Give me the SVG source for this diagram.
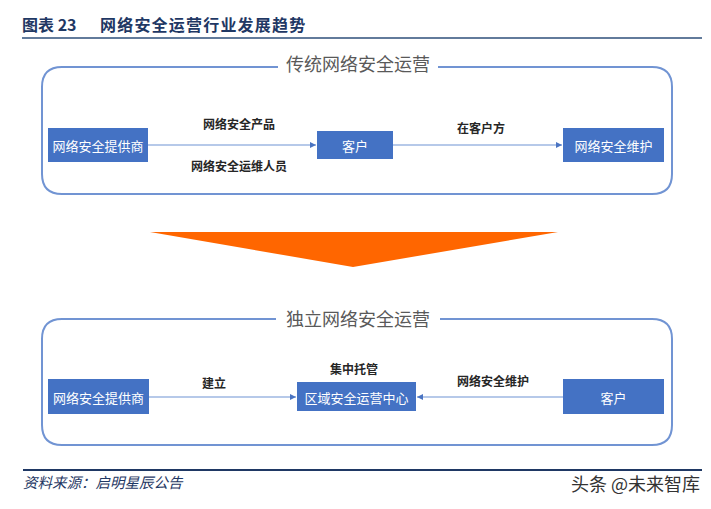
<svg xmlns="http://www.w3.org/2000/svg" width="711" height="509" viewBox="0 0 711 509">
<defs>
<style>
.hdr{font-family:"Noto Sans CJK SC","Noto Sans CJK JP",sans-serif;font-weight:bold;font-size:16px;fill:#1f3864}
.sec{font-family:"Noto Sans CJK SC",sans-serif;font-size:18px;fill:#595959;text-anchor:middle}
.frame{fill:none;stroke:#7194d3;stroke-width:2}
.box{fill:#4472c4}
.bt{font-family:"Noto Sans CJK SC",sans-serif;font-size:13px;fill:#ffffff;text-anchor:middle;dominant-baseline:central}
.lbl{font-family:"Noto Sans CJK SC",sans-serif;font-size:12px;font-weight:bold;fill:#262626;text-anchor:middle;dominant-baseline:central}
.con{stroke:#6f93d3;stroke-width:1.2;fill:none}
.src{font-family:"Noto Sans CJK SC",sans-serif;font-style:italic;font-size:14.5px;fill:#1f3864}
.wm{font-family:"Noto Sans CJK SC",sans-serif;font-size:18px;fill:#333333;text-anchor:end}
</style>
<marker id="ah" viewBox="0 0 10 10" refX="10" refY="5" markerWidth="5" markerHeight="5" orient="auto">
<path d="M0,0 L10,5 L0,10 z" fill="#4a74c2"/>
</marker>
</defs>
<rect width="711" height="509" fill="#ffffff"/>

<g id="header">
<text class="hdr" x="22" y="31">图表 23</text>
<text class="hdr" x="100" y="31" letter-spacing="1.2">网络安全运营行业发展趋势</text>
<line x1="22" y1="38" x2="702" y2="38" stroke="#2e4f7a" stroke-width="1.5"/>
</g>

<g id="frame-top">
<path class="frame" d="M278,67 H62 Q42,67 42,87 V174 Q42,194 62,194 H652 Q672,194 672,174 V87 Q672,67 652,67 H438"/>
<text class="sec" x="358" y="71">传统网络安全运营</text>
</g>

<g id="frame-bottom">
<path class="frame" d="M276,319 H62 Q42,319 42,339 V425 Q42,445 62,445 H652 Q672,445 672,425 V339 Q672,319 652,319 H440"/>
<text class="sec" x="358" y="326">独立网络安全运营</text>
</g>

<g id="big-arrow">
<polygon points="150,232 558,232 353,267" fill="#ff6600"/>
</g>

<g id="connectors">
<line class="con" x1="148" y1="145" x2="316" y2="145" marker-end="url(#ah)"/>
<line class="con" x1="393" y1="145" x2="562" y2="145" marker-end="url(#ah)"/>
<line class="con" x1="149" y1="397" x2="296" y2="397" marker-end="url(#ah)"/>
<line class="con" x1="563" y1="397" x2="417" y2="397" marker-end="url(#ah)"/>
<text class="lbl" x="239" y="123">网络安全产品</text>
<text class="lbl" x="239" y="165">网络安全运维人员</text>
<text class="lbl" x="481" y="127">在客户方</text>
<text class="lbl" x="214" y="382">建立</text>
<text class="lbl" x="354" y="368">集中托管</text>
<text class="lbl" x="493" y="380">网络安全维护</text>
</g>

<g id="n-provider-top">
<rect class="box" x="48" y="128" width="100" height="34"/>
<text class="bt" x="98" y="145">网络安全提供商</text>
</g>
<g id="n-customer-top">
<rect class="box" x="317" y="131" width="76" height="28"/>
<text class="bt" x="355" y="145">客户</text>
</g>
<g id="n-maint-top">
<rect class="box" x="563" y="128" width="101" height="34"/>
<text class="bt" x="613.5" y="145">网络安全维护</text>
</g>

<g id="n-provider-bottom">
<rect class="box" x="48" y="379" width="101" height="35"/>
<text class="bt" x="98.5" y="397">网络安全提供商</text>
</g>
<g id="n-center">
<rect class="box" x="297" y="382" width="119" height="29"/>
<text class="bt" x="356.5" y="397">区域安全运营中心</text>
</g>
<g id="n-customer-bottom">
<rect class="box" x="563" y="379" width="101" height="35"/>
<text class="bt" x="613.5" y="397">客户</text>
</g>

<g id="footer">
<line x1="23" y1="470" x2="702" y2="470" stroke="#1f3864" stroke-width="2"/>
<text class="src" x="23" y="488">资料来源：启明星辰公告</text>
<text class="wm" x="700" y="491">头条 @未来智库</text>
</g>
</svg>
